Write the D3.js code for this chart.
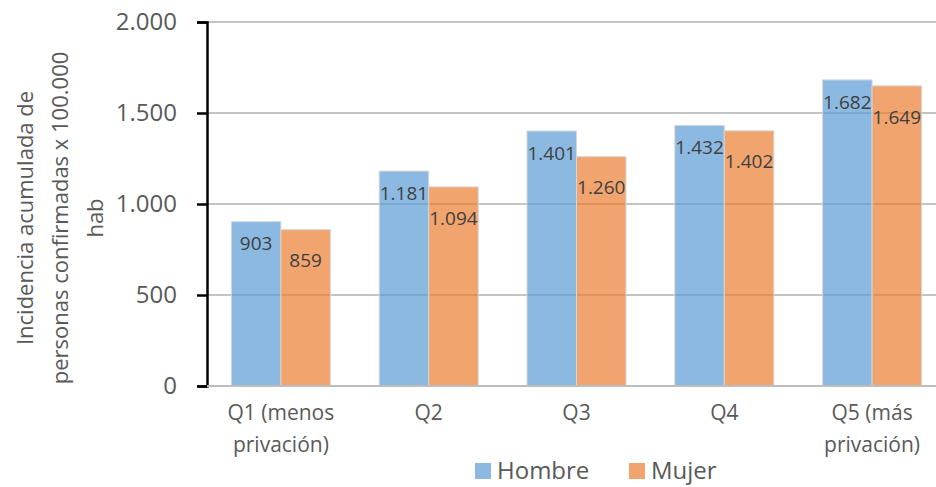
<!DOCTYPE html>
<html>
<head>
<meta charset="utf-8">
<script src="https://cdn.jsdelivr.net/npm/d3@7"></script>
<style>
  body { margin: 0; background: #fff; }
  svg { display: block; font-family: "Open Sans", sans-serif; }
</style>
</head>
<body>
<svg id="chart" width="936" height="487"></svg>
<script>
// data
const categories = [["Q1 (menos", "privación)"], ["Q2"], ["Q3"], ["Q4"], ["Q5 (más", "privación)"]];
const series = ["Hombre", "Mujer"];
const hombre = [903, 1181, 1401, 1432, 1682];
const mujer = [859, 1094, 1260, 1402, 1649];
const yTicks = [0, 500, 1000, 1500, 2000];
const yTitle = ["Incidencia acumulada de", "personas confirmadas x 100.000", "hab"];

const colors = { Hombre: "#5B9BD5", Mujer: "#ED7D31" };
const labelOffset = { Hombre: 22, Mujer: 31 };

const svg = d3.select("#chart");
const margin = { top: 22, left: 207, bottom: 101 };
const height = 487 - margin.top - margin.bottom;
const plotRight = 946;

const rows = categories.map((c, i) => ({ key: i, cat: c, Hombre: hombre[i], Mujer: mujer[i] }));

const x0 = d3.scaleBand().domain(rows.map(d => d.key))
    .range([margin.left, plotRight]).paddingInner(0.33).paddingOuter(0.165);
const x1 = d3.scaleBand().domain(series).range([0, x0.bandwidth()]);
const y = d3.scaleLinear().domain([0, 2000]).range([margin.top + height, margin.top]);

const fmt = v => d3.format(",")(v).replace(/,/g, ".");

// gridlines
svg.append("g").selectAll("line")
    .data(yTicks)
    .join("line")
    .attr("x1", margin.left).attr("x2", 936)
    .attr("y1", d => y(d)).attr("y2", d => y(d))
    .attr("stroke", "#c4c4c4").attr("stroke-width", 2);

// bars
const groups = svg.append("g").selectAll("g")
    .data(rows)
    .join("g")
    .attr("transform", d => "translate(" + x0(d.key) + ",0)");

groups.selectAll("rect")
    .data(d => series.map(s => ({ s, v: d[s] })))
    .join("rect")
    .attr("x", d => x1(d.s))
    .attr("width", x1.bandwidth())
    .attr("y", d => y(d.v))
    .attr("height", d => y(0) - y(d.v))
    .attr("fill", d => colors[d.s])
    .attr("fill-opacity", 0.7)
    .attr("stroke", "#d6d6d6")
    .attr("stroke-width", 1);

groups.selectAll("text")
    .data(d => series.map(s => ({ s, v: d[s] })))
    .join("text")
    .attr("x", d => x1(d.s) + x1.bandwidth() / 2)
    .attr("y", d => y(d.v) + labelOffset[d.s])
    .attr("dy", "0.35em")
    .attr("text-anchor", "middle")
    .attr("font-size", 19)
    .attr("fill", "#404040")
    .text(d => fmt(d.v));

// y axis
const yAxis = d3.axisLeft(y).tickValues(yTicks).tickSize(10).tickPadding(20).tickFormat(fmt);
const gy = svg.append("g")
    .attr("transform", "translate(" + margin.left + ",0)")
    .call(yAxis);
gy.select(".domain").attr("stroke", "#000").attr("stroke-width", 2.5);
gy.selectAll(".tick line").attr("stroke", "#000").attr("stroke-width", 2.5);
gy.selectAll(".tick text")
    .attr("font-size", 24)
    .attr("font-family", "Open Sans, sans-serif")
    .attr("fill", "#595959");

// zero baseline
svg.append("line")
    .attr("x1", margin.left).attr("x2", 936)
    .attr("y1", y(0)).attr("y2", y(0))
    .attr("stroke", "#bdbdbd").attr("stroke-width", 2);

// x labels
const xl = svg.append("g").selectAll("text")
    .data(rows)
    .join("text")
    .attr("x", d => x0(d.key) + x0.bandwidth() / 2)
    .attr("y", y(0) + 34)
    .attr("text-anchor", "middle")
    .attr("font-size", 21)
    .attr("fill", "#595959");
xl.selectAll("tspan")
    .data(d => d.cat)
    .join("tspan")
    .attr("x", function () { return d3.select(this.parentNode).attr("x"); })
    .attr("dy", (d, i) => i === 0 ? 0 : 32)
    .text(d => d);

// y title
const yt = svg.append("text")
    .attr("transform", "translate(25,218) rotate(-90)")
    .attr("text-anchor", "middle")
    .attr("font-size", 22)
    .attr("fill", "#595959");
yt.selectAll("tspan")
    .data(yTitle)
    .join("tspan")
    .attr("x", 0)
    .attr("dy", (d, i) => i === 0 ? "0.35em" : 35)
    .text(d => d);

// legend
const legendX = { Hombre: 475, Mujer: 629 };
const leg = svg.append("g").selectAll("g")
    .data(series)
    .join("g")
    .attr("transform", d => "translate(" + legendX[d] + ",463)");
leg.append("rect")
    .attr("width", 16).attr("height", 16)
    .attr("fill", d => colors[d]).attr("fill-opacity", 0.7);
leg.append("text")
    .attr("x", 22).attr("y", 8).attr("dy", "0.35em")
    .attr("font-size", 24)
    .attr("fill", "#595959")
    .text(d => d);
</script>
</body>
</html>
